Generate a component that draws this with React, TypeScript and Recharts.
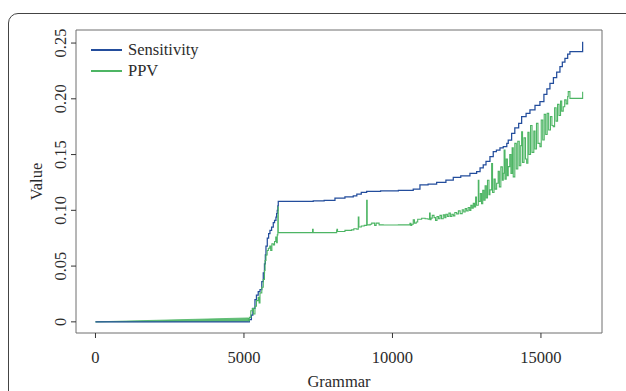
import { ComposedChart, Line, Area, XAxis, YAxis, ReferenceArea, Legend } from "recharts"

// [grammar, value] pairs
const sensitivity: [number, number][] = [
  [0, 0], [5150, 0], [5180, 0.002], [5250, 0.006], [5300, 0.012], [5370, 0.02], [5420, 0.024],
  [5480, 0.027], [5540, 0.029], [5600, 0.036], [5650, 0.044], [5690, 0.052], [5720, 0.06],
  [5741, 0.068], [5785, 0.075], [5830, 0.079], [5875, 0.082], [5930, 0.085], [5987, 0.089],
  [6030, 0.091], [6077, 0.094], [6100, 0.097], [6121, 0.1], [6140, 0.104], [6155, 0.108],
  [7333, 0.1085], [7700, 0.109], [8064, 0.111], [8400, 0.112], [8680, 0.113], [8800, 0.1145],
  [8950, 0.116], [9131, 0.117], [9600, 0.1175], [10200, 0.118], [10700, 0.119], [10926, 0.1228],
  [11200, 0.1235], [11488, 0.125], [11800, 0.127], [12048, 0.1296], [12300, 0.131],
  [12609, 0.1332], [12835, 0.1347], [12950, 0.138], [13057, 0.1407], [13150, 0.144],
  [13283, 0.1481], [13394, 0.1526], [13500, 0.154], [13620, 0.156], [13731, 0.1571],
  [13850, 0.16], [13899, 0.163], [14013, 0.1691], [14120, 0.174], [14250, 0.178], [14350, 0.184],
  [14500, 0.187], [14630, 0.19], [14800, 0.194], [14966, 0.1974], [15100, 0.204], [15200, 0.209],
  [15303, 0.2139], [15420, 0.219], [15530, 0.224], [15640, 0.2288], [15720, 0.233],
  [15808, 0.2363], [15900, 0.24], [15976, 0.2422], [16404, 0.2422], [16404, 0.2512],
]

const ppv: [number, number][] = [
  [5150, 0.0035], [5150, 0.001], [5180, 0.004], [5230, 0.01], [5280, 0.012], [5320, 0.007],
  [5370, 0.014], [5420, 0.019], [5480, 0.022], [5510, 0.017], [5539, 0.026], [5600, 0.031],
  [5650, 0.038], [5690, 0.046], [5710, 0.055], [5741, 0.06], [5780, 0.064], [5820, 0.066],
  [5870, 0.068], [5900, 0.064], [5940, 0.07], [5990, 0.069], [6030, 0.072], [6070, 0.076],
  [6100, 0.071], [6121, 0.078], [6140, 0.095], [6150, 0.103], [6155, 0.08], [7300, 0.08],
  [7310, 0.083], [7330, 0.08], [8121, 0.0818], [8130, 0.083], [8150, 0.081], [8400, 0.082],
  [8569, 0.082], [8620, 0.0825], [8700, 0.0835], [8800, 0.083], [8849, 0.094], [8870, 0.085],
  [8950, 0.086], [9050, 0.0865], [9131, 0.109], [9150, 0.087], [9250, 0.0875], [9300, 0.0885],
  [9400, 0.0865], [9450, 0.0885], [9550, 0.087], [9690, 0.0869], [10200, 0.087],
  [10589, 0.0884], [10620, 0.0865], [10650, 0.0875], [10700, 0.0914], [10740, 0.0885],
  [10800, 0.0895], [10850, 0.092], [10983, 0.0929], [11100, 0.0925], [11200, 0.092],
  [11250, 0.0975], [11270, 0.0915], [11300, 0.093], [11340, 0.0955], [11400, 0.0935],
  [11450, 0.091], [11500, 0.0945], [11550, 0.0925], [11600, 0.0955], [11650, 0.0925],
  [11710, 0.0959], [11760, 0.0935], [11800, 0.0965], [11850, 0.0945], [11900, 0.0975],
  [11950, 0.0945], [12000, 0.0965], [12050, 0.095], [12100, 0.098], [12161, 0.0968],
  [12220, 0.0995], [12280, 0.097], [12350, 0.1005], [12400, 0.0985], [12450, 0.1015],
  [12498, 0.0995], [12550, 0.1025], [12600, 0.1], [12640, 0.1045], [12680, 0.102],
  [12721, 0.1064], [12760, 0.103], [12800, 0.112], [12830, 0.1045], [12890, 0.127],
  [12910, 0.108], [12960, 0.115], [13000, 0.106], [13040, 0.118], [13080, 0.109],
  [13120, 0.122], [13160, 0.111], [13200, 0.127], [13250, 0.114], [13283, 0.1183],
  [13340, 0.142], [13370, 0.116], [13420, 0.128], [13460, 0.119], [13508, 0.1243],
  [13560, 0.135], [13600, 0.121], [13650, 0.139], [13700, 0.127], [13731, 0.1332],
  [13760, 0.154], [13790, 0.128], [13830, 0.146], [13870, 0.131], [13899, 0.1392],
  [13950, 0.15], [13990, 0.133], [14030, 0.156], [14067, 0.13], [14120, 0.16],
  [14170, 0.137], [14220, 0.162], [14270, 0.14], [14320, 0.158], [14350, 0.1705], [14380, 0.143],
  [14430, 0.165], [14480, 0.146], [14519, 0.1422], [14560, 0.17], [14600, 0.15], [14650, 0.176],
  [14700, 0.152], [14760, 0.171], [14800, 0.155], [14850, 0.178], [14900, 0.16], [14966, 0.1571],
  [15010, 0.181], [15060, 0.163], [15110, 0.186], [15160, 0.168], [15210, 0.187], [15260, 0.172],
  [15320, 0.184], [15370, 0.176], [15414, 0.175], [15460, 0.192], [15510, 0.18], [15560, 0.195],
  [15610, 0.185], [15660, 0.198], [15700, 0.189], [15751, 0.1929], [15800, 0.199],
  [15850, 0.1955], [15900, 0.202], [15919, 0.2064], [15976, 0.2004], [16404, 0.2004],
  [16404, 0.2064],
]

// the thin PPV fan before grammar 5150: [grammar, low, high]
const ppvFan: [number, number, number][] = [
  [0, 0, 0],
  [5150, 0.0005, 0.0035],
]

const xTicks = [0, 5000, 10000, 15000]
const yTicks = [0, 0.05, 0.1, 0.15, 0.2, 0.25]

const BLUE = "#234d9c"
const GREEN = "#4db564"
const FONT = "'Liberation Serif', 'Times New Roman', serif"
const TEXT = "#2b2b2b"

const sensData = sensitivity.map(([x, y]) => ({ x, y }))
const ppvData = ppv.map(([x, y]) => ({ x, y }))
const fanData = ppvFan.map(([x, lo, hi]) => ({ x, y: [lo, hi] }))

function XTick({ x, y, payload }: any) {
  return (
    <text x={x} y={y + 23} textAnchor="middle" fontFamily={FONT} fontSize={16.5} fill={TEXT}>
      {payload.value}
    </text>
  )
}

function YTick({ x, y, payload }: any) {
  const v = payload.value
  const label = v === 0 ? "0" : v.toFixed(2)
  const bx = x - 3
  return (
    <text x={bx} y={y} transform={`rotate(-90 ${bx} ${y})`} textAnchor="middle" fontFamily={FONT} fontSize={16.5} fill={TEXT}>
      {label}
    </text>
  )
}

function LegendBox() {
  const rows = [
    { name: "Sensitivity", color: BLUE },
    { name: "PPV", color: GREEN },
  ]
  return (
    <div style={{ fontFamily: FONT, fontSize: 16.5, color: TEXT }}>
      {rows.map((r) => (
        <div key={r.name} style={{ display: "flex", alignItems: "center", height: 21, lineHeight: "21px" }}>
          <span style={{ display: "inline-block", width: 31, height: 2, background: r.color, marginRight: 6 }} />
          <span>{r.name}</span>
        </div>
      ))}
    </div>
  )
}

export default function App() {
  return (
    <div style={{ position: "fixed", left: 0, top: 0, width: 626, height: 391, overflow: "hidden", background: "#fff" }}>
      <div
        style={{
          position: "absolute",
          left: 8,
          top: 13,
          width: 700,
          height: 500,
          border: "1px solid #444",
          borderRadius: 10,
        }}
      />
      <div style={{ position: "absolute", left: 0, top: 0 }}>
        <ComposedChart width={626} height={400} margin={{ top: 30, right: 24, left: 0, bottom: 0 }}>
          <XAxis
            dataKey="x"
            type="number"
            domain={[-656, 17056]}
            ticks={xTicks}
            allowDataOverflow
            height={67}
            axisLine={false}
            tickLine={{ stroke: "#333" }}
            tickSize={5}
            tick={<XTick />}
            label={{
              content: () => (
                <text x={339} y={387} textAnchor="middle" fontFamily={FONT} fontSize={16.5} fill={TEXT}>
                  Grammar
                </text>
              ),
            }}
          />
          <YAxis
            type="number"
            domain={[-0.01, 0.2617]}
            ticks={yTicks}
            allowDataOverflow
            width={76}
            axisLine={false}
            tickLine={{ stroke: "#333" }}
            tickSize={5}
            tick={<YTick />}
            label={{
              content: () => (
                <text x={42} y={181.5} transform="rotate(-90 42 181.5)" textAnchor="middle" fontFamily={FONT} fontSize={16.5} fill={TEXT}>
                  Value
                </text>
              ),
            }}
          />
          <ReferenceArea x1={-656} x2={17056} y1={-0.01} y2={0.2617} fill="none" stroke="#6e6e6e" strokeWidth={1} />
          <Area
            data={fanData}
            dataKey="y"
            type="linear"
            stroke={GREEN}
            strokeWidth={0.8}
            fill={GREEN}
            fillOpacity={0.9}
            isAnimationActive={false}
            legendType="none"
          />
          <Line
            data={sensData}
            dataKey="y"
            name="Sensitivity"
            type="stepAfter"
            stroke={BLUE}
            strokeWidth={1.25}
            dot={false}
            isAnimationActive={false}
          />
          <Line
            data={ppvData}
            dataKey="y"
            name="PPV"
            type="stepAfter"
            stroke={GREEN}
            strokeWidth={1.1}
            dot={false}
            isAnimationActive={false}
          />
          <Legend
            layout="vertical"
            align="center"
            verticalAlign="middle"
            content={<LegendBox />}
            wrapperStyle={{ left: 91, top: 39, width: "auto", height: "auto" }}
          />
        </ComposedChart>
      </div>
    </div>
  )
}
